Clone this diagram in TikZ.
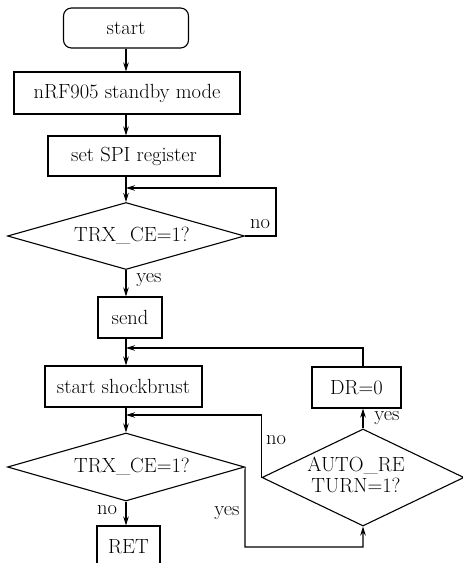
\documentclass[tikz,border=0pt]{standalone}
\usetikzlibrary{shapes.geometric,arrows.meta}
\begin{document}
\begin{tikzpicture}[x=1pt,y=-1pt, line width=1.1pt,
 font=\fontsize{20.5}{21}\selectfont,
 box/.style={draw, rectangle, inner sep=0pt},
 dia/.style={draw, diamond, inner sep=0pt},
 arr/.style={-{Stealth[length=9pt,width=5.5pt]}},
 lbl/.style={inner sep=0pt}]
\useasboundingbox (0,0) rectangle (463,563);
\clip (0,0) rectangle (463,563);
\node[box, rounded corners=8pt, minimum width=125pt, minimum height=40pt] (start) at (126,28) {start};
\node[box, minimum width=226pt, minimum height=42pt] (nrf) at (127,93) {nRF905 standby mode};
\node[box, minimum width=172pt, minimum height=40pt] (spi) at (134,156) {set SPI register};
\node[dia, minimum width=237pt, minimum height=67pt] (d1) at (126,236) {};
\node[lbl] (t1) at (132,236) {TRX\_CE=1?};
\node[box, minimum width=64pt, minimum height=41pt] (send) at (130,317.5) {send};
\node[box, minimum width=157pt, minimum height=41pt] (ssb) at (123.5,386.5) {start shockbrust};
\node[box, minimum width=89pt, minimum height=41pt] (dr) at (356.5,387.5) {DR=0};
\node[dia, minimum width=237pt, minimum height=68pt] (d2) at (126,467) {};
\node[lbl] (t2) at (132,467) {TRX\_CE=1?};
\node[dia, minimum width=202pt, minimum height=97pt] (d3) at (363,477.5) {};
\node[lbl, align=center] (t3) at (356,475) {AUTO\_RE\\TURN=1?};
\node[box, minimum width=63pt, minimum height=42pt] (ret) at (128.5,547) {RET};
% connectors
\coordinate (n1) at (276,188);
\coordinate (m1) at (126,188);
\coordinate (m2) at (126,348);
\coordinate (m3) at (126,415);
\coordinate (c2) at (245,547);
\draw[arr] (start.south) -- (nrf.north -| start.south);
\draw[arr] (nrf.south -| start.south) -- (spi.north -| start.south);
\draw[arr] (spi.south -| start.south) -- (d1.north);
\draw[arr] (d1.east) -| (n1) -- (m1);
\draw[arr] (d1.south) -- (send.north -| d1.south);
\draw[arr] (send.south -| d1.south) -- (ssb.north -| d1.south);
\draw[arr] (dr.north -| d3.north) |- (m2);
\draw[arr] (ssb.south -| d2.north) -- (d2.north);
\draw[arr] (d3.west) |- (m3);
\draw[arr] (d2.south) -- (ret.north -| d2.south);
\draw[arr] (d3.north) -- (dr.south -| d3.north);
\draw[arr] (d2.east) -- (c2) -| (d3.south);
% labels
\node[lbl] (l1) at (260,224) {no};
\node[lbl] (l2) at (149,280) {yes};
\node[lbl] (l3) at (276,440) {no};
\node[lbl] (l4) at (387,418) {yes};
\node[lbl] (l5) at (227,513) {yes};
\node[lbl] (l6) at (107,510) {no};
\end{tikzpicture}
\end{document}
